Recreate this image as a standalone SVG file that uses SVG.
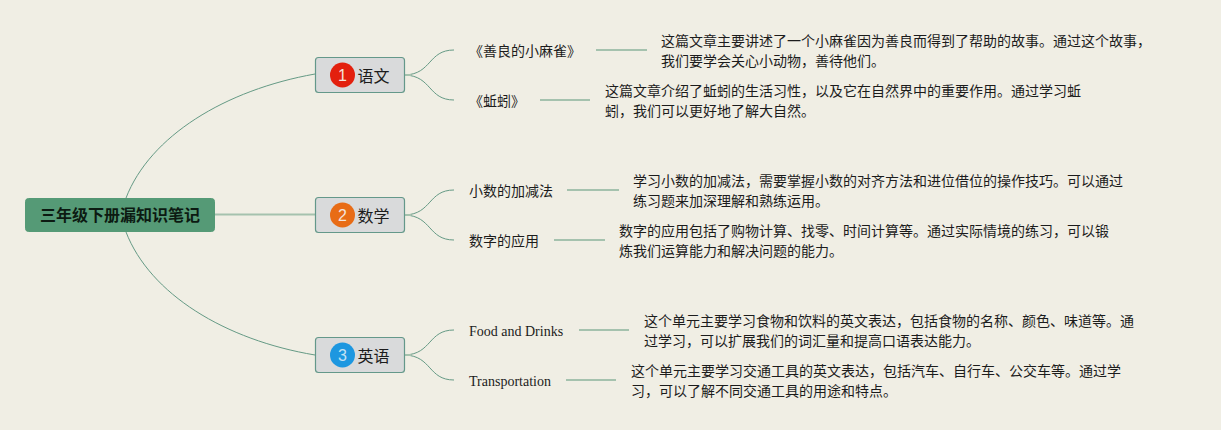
<svg xmlns="http://www.w3.org/2000/svg" width="1221" height="430" viewBox="0 0 1221 430">
<style>
text{font-family:"Noto Sans CJK SC","Liberation Sans",sans-serif;fill:#1c1c1c}
.s{font-size:14px}
.e{font-family:"Liberation Serif","Noto Sans CJK SC",serif;font-size:14px}
.b{font-size:16px}
.n{fill:#d9dadb;stroke:#64988a;stroke-width:1.2}
.c{font-size:16px;font-family:"Liberation Sans",sans-serif;fill:#f4e4dc;text-anchor:middle}
.l{fill:none;stroke:#659a85;stroke-width:1}
.h{fill:none;stroke:#a5c2ae;stroke-width:2}
</style>
<rect width="1221" height="430" fill="#f0eee4"/>
<g id="connectors">
<path class="l" d="M126 198C150 136 225 90 315 74"/>
<path class="l" d="M126 232C150 294 225 340 315 355"/>
<path class="h" d="M215 214.500H315"/>
<path class="l" d="M405 75C432 74 428 50 454 50"/>
<path class="l" d="M405 75C432 76 428 100 454 100"/>
<path class="l" d="M405 215C432 214 428 190 454 190"/>
<path class="l" d="M405 215C432 216 428 240 454 240"/>
<path class="l" d="M405 355C432 354 428 330 454 330"/>
<path class="l" d="M405 355C432 356 428 380 454 380"/>
<path class="h" d="M405 75H411M405 215H411M405 355H411"/>
<path class="h" d="M596 50H647"/>
<path class="h" d="M540 100H590"/>
<path class="h" d="M567 190H619"/>
<path class="h" d="M554 240H605"/>
<path class="h" d="M579 330H629"/>
<path class="h" d="M566 380H616"/>
</g>
<g id="root"><rect x="25.500" y="198.500" width="189" height="33" rx="3" fill="#559a76" stroke="#559a76"/><text x="120" y="221" text-anchor="middle" font-size="16" font-weight="700" style="fill:#0c1a12">三年级下册漏知识笔记</text></g>
<g id="yuwen"><rect class="n" x="315.500" y="57.500" width="89" height="35" rx="3"/><circle cx="342.500" cy="75" r="12.500" fill="#e3200e"/><text class="c" x="342.500" y="81">1</text><text class="b" x="357.500" y="81.500">语文</text></g>
<g id="shuxue"><rect class="n" x="315.500" y="197.500" width="89" height="35" rx="3"/><circle cx="342.500" cy="215" r="12.500" fill="#e86c16"/><text class="c" x="342.500" y="221">2</text><text class="b" x="357.500" y="221.500">数学</text></g>
<g id="yingyu"><rect class="n" x="315.500" y="337.500" width="89" height="35" rx="3"/><circle cx="342.500" cy="355" r="12.500" fill="#1d97e0"/><text class="c" x="342.500" y="361" style="fill:#c4e2f4">3</text><text class="b" x="357.500" y="361.500">英语</text></g>
<g id="n1"><text class="s" x="469" y="56">《善良的小麻雀》</text></g>
<g id="n2"><text class="s" x="469" y="106">《蚯蚓》</text></g>
<g id="n3"><text class="s" x="469" y="196">小数的加减法</text></g>
<g id="n4"><text class="s" x="469" y="246">数字的应用</text></g>
<g id="n5"><text class="e" x="469" y="336">Food and Drinks</text></g>
<g id="n6"><text class="e" x="469" y="386">Transportation</text></g>
<g id="d1"><text class="s" x="661" y="46">这篇文章主要讲述了一个小麻雀因为善良而得到了帮助的故事。通过这个故事，</text><text class="s" x="661" y="66">我们要学会关心小动物，善待他们。</text></g>
<g id="d2"><text class="s" x="605" y="96">这篇文章介绍了蚯蚓的生活习性，以及它在自然界中的重要作用。通过学习蚯</text><text class="s" x="605" y="116">蚓，我们可以更好地了解大自然。</text></g>
<g id="d3"><text class="s" x="633" y="186">学习小数的加减法，需要掌握小数的对齐方法和进位借位的操作技巧。可以通过</text><text class="s" x="633" y="206">练习题来加深理解和熟练运用。</text></g>
<g id="d4"><text class="s" x="619" y="236">数字的应用包括了购物计算、找零、时间计算等。通过实际情境的练习，可以锻</text><text class="s" x="619" y="256">炼我们运算能力和解决问题的能力。</text></g>
<g id="d5"><text class="s" x="644" y="326">这个单元主要学习食物和饮料的英文表达，包括食物的名称、颜色、味道等。通</text><text class="s" x="644" y="346">过学习，可以扩展我们的词汇量和提高口语表达能力。</text></g>
<g id="d6"><text class="s" x="631" y="376">这个单元主要学习交通工具的英文表达，包括汽车、自行车、公交车等。通过学</text><text class="s" x="631" y="396">习，可以了解不同交通工具的用途和特点。</text></g>
</svg>
